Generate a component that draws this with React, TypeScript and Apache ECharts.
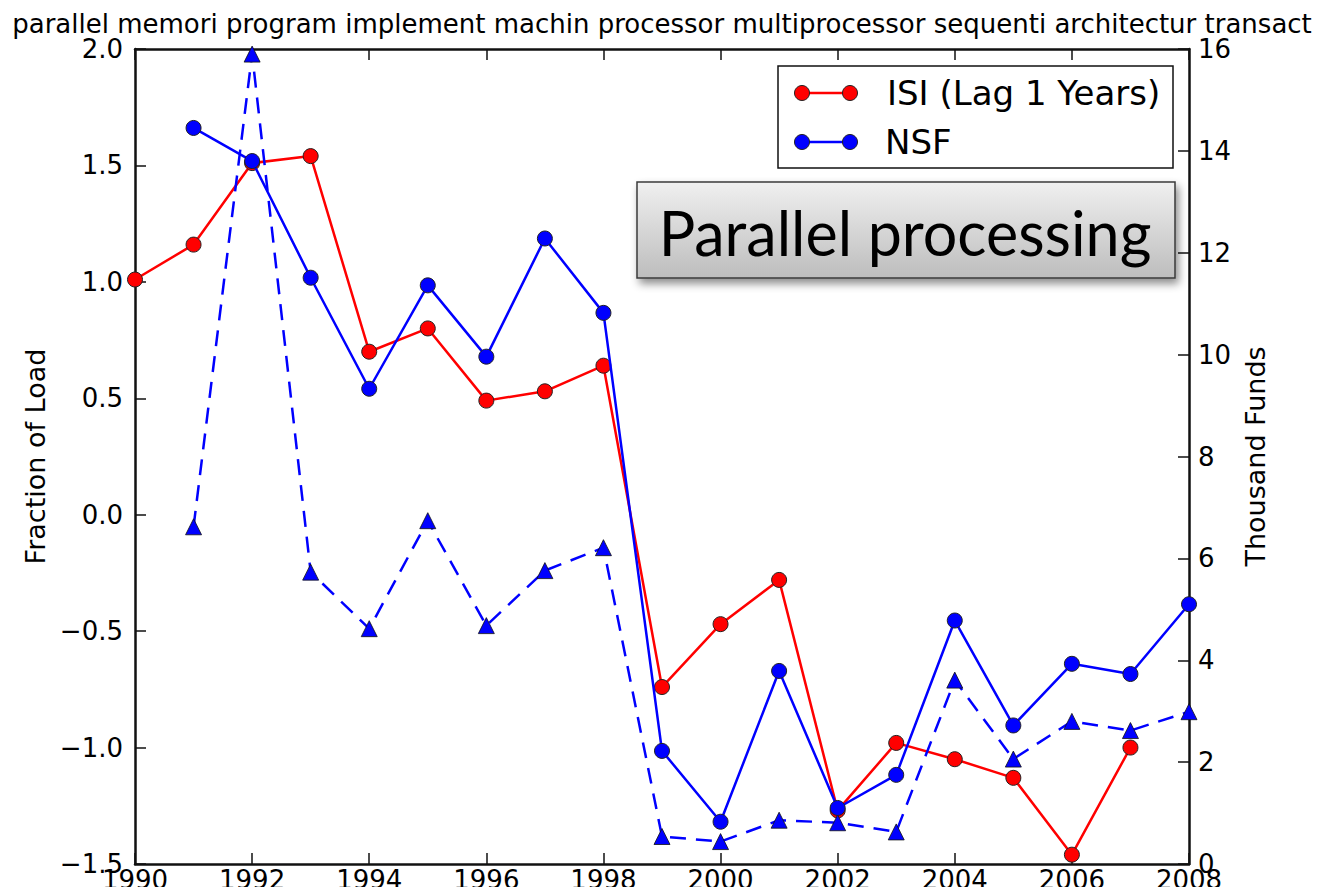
import React, { useEffect, useRef } from "react";
import * as echarts from "echarts";

const titleText =
  "parallel memori program implement machin processor multiprocessor sequenti architectur transact";

const isiYears = [1990, 1991, 1992, 1993, 1994, 1995, 1996, 1997, 1998, 1999, 2000, 2001, 2002, 2003, 2004, 2005, 2006, 2007];
const isiValues = [1.01, 1.16, 1.51, 1.54, 0.7, 0.8, 0.49, 0.53, 0.64, -0.74, -0.47, -0.28, -1.27, -0.98, -1.05, -1.13, -1.46, -1.0];

const nsfYears = [1991, 1992, 1993, 1994, 1995, 1996, 1997, 1998, 1999, 2000, 2001, 2002, 2003, 2004, 2005, 2006, 2007, 2008];
const nsfValues = [14.45, 13.8, 11.51, 9.33, 11.36, 9.96, 12.28, 10.82, 2.22, 0.83, 3.79, 1.1, 1.75, 4.78, 2.72, 3.93, 3.73, 5.1];
const nsfDashedValues = [6.62, 15.9, 5.73, 4.62, 6.74, 4.68, 5.76, 6.21, 0.54, 0.44, 0.86, 0.81, 0.63, 3.61, 2.06, 2.8, 2.62, 2.99];

const legendLabels = ["ISI (Lag 1 Years)", "NSF"];
const annotationText = "Parallel processing";
const leftAxisName = "Fraction of Load";
const rightAxisName = "Thousand Funds";

const FONT = "'DejaVu Sans', sans-serif";

export default function App() {
  const ref = useRef<HTMLDivElement>(null);
  useEffect(() => {
    if (!ref.current) return;
    const chart = echarts.init(ref.current, null, { renderer: "svg" });
    const axisLine = { show: true, onZero: false, lineStyle: { color: "#111", width: 2.5 } };
    const tick = (len: number) => ({
      show: true,
      inside: true,
      length: len,
      lineStyle: { color: "#111", width: 1.5 },
    });
    const fmtMinus = (v: number, d: number) => {
      const s = v.toFixed(d);
      return s.replace("-", "\u2212");
    };
    const legendX1 = 802;
    const legendX2 = 850;
    const rows = [93, 142];
    const colors = ["#ff0000", "#0000ff"];
    const legendGraphics: any[] = [
      {
        type: "rect",
        shape: { x: 778, y: 66, width: 395, height: 102 },
        style: { fill: "#fff", stroke: "#111", lineWidth: 1.5 },
        z: 100,
      },
    ];
    rows.forEach((y, i) => {
      legendGraphics.push({
        type: "line",
        shape: { x1: legendX1, y1: y, x2: legendX2, y2: y },
        style: { stroke: colors[i], lineWidth: 2.5 },
        z: 101,
      });
      [legendX1, legendX2].forEach((cx) =>
        legendGraphics.push({
          type: "circle",
          shape: { cx, cy: y, r: 7.5 },
          style: { fill: colors[i], stroke: "#222", lineWidth: 1 },
          z: 102,
        })
      );
      legendGraphics.push({
        type: "text",
        x: i === 0 ? 887 : 885,
        y,
        style: {
          text: legendLabels[i],
          font: `34px ${FONT}`,
          fill: "#000",
          verticalAlign: "middle",
        },
        z: 102,
      });
    });

    chart.setOption({
      animation: false,
      backgroundColor: "#fff",
      title: {
        text: titleText,
        left: "center",
        top: 6,
        textStyle: { fontFamily: FONT, fontSize: 26, fontWeight: "normal", color: "#000" },
      },
      grid: { left: 135, right: 135, top: 49, bottom: 31, containLabel: false },
      xAxis: [
        {
          type: "value",
          min: 1990,
          max: 2008,
          interval: 2,
          position: "bottom",
          axisLine,
          axisTick: tick(11),
          splitLine: { show: false },
          axisLabel: {
            fontFamily: FONT,
            fontSize: 26,
            color: "#000",
            margin: 3,
            formatter: (v: number) => String(v),
          },
        },
        {
          type: "value",
          min: 1990,
          max: 2008,
          interval: 2,
          position: "top",
          axisLine,
          axisTick: tick(11),
          splitLine: { show: false },
          axisLabel: { show: false },
        },
      ],
      yAxis: [
        {
          type: "value",
          min: -1.5,
          max: 2.0,
          interval: 0.5,
          position: "left",
          axisLine,
          axisTick: tick(11),
          splitLine: { show: false },
          axisLabel: {
            fontFamily: FONT,
            fontSize: 26,
            color: "#000",
            margin: 12,
            formatter: (v: number) => fmtMinus(v, 1),
          },
          name: leftAxisName,
          nameLocation: "middle",
          nameRotate: 90,
          nameGap: 86,
          nameTextStyle: { fontFamily: FONT, fontSize: 27, color: "#000" },
        },
        {
          type: "value",
          min: 0,
          max: 16,
          interval: 2,
          position: "right",
          axisLine,
          axisTick: tick(11),
          splitLine: { show: false },
          axisLabel: {
            fontFamily: FONT,
            fontSize: 26,
            color: "#000",
            margin: 9,
            formatter: (v: number) => String(v),
          },
          name: rightAxisName,
          nameLocation: "middle",
          nameRotate: 90,
          nameGap: 44,
          nameTextStyle: { fontFamily: FONT, fontSize: 27, color: "#000" },
        },
      ],
      series: [
        {
          name: legendLabels[0],
          type: "line",
          xAxisIndex: 0,
          yAxisIndex: 0,
          data: isiYears.map((y, i) => [y, isiValues[i]]),
          symbol: "circle",
          symbolSize: 15,
          lineStyle: { color: "#ff0000", width: 2.5 },
          itemStyle: { color: "#ff0000", borderColor: "#222", borderWidth: 1 },
          z: 2,
        },
        {
          name: "NSF dashed",
          type: "line",
          xAxisIndex: 0,
          yAxisIndex: 1,
          data: nsfYears.map((y, i) => [y, nsfDashedValues[i]]),
          symbol: "triangle",
          symbolSize: 16,
          lineStyle: { color: "#0000ff", width: 2.5, type: [16, 10] },
          itemStyle: { color: "#0000ff", borderColor: "#111", borderWidth: 0.8 },
          z: 3,
        },
        {
          name: legendLabels[1],
          type: "line",
          xAxisIndex: 0,
          yAxisIndex: 1,
          data: nsfYears.map((y, i) => [y, nsfValues[i]]),
          symbol: "circle",
          symbolSize: 15,
          lineStyle: { color: "#0000ff", width: 2.5 },
          itemStyle: { color: "#0000ff", borderColor: "#222", borderWidth: 1 },
          z: 4,
        },
      ],
      graphic: [
        ...legendGraphics,
        {
          type: "rect",
          shape: { x: 637, y: 182, width: 538, height: 96 },
          style: {
            fill: new echarts.graphic.LinearGradient(0, 0, 0, 1, [
              { offset: 0, color: "#f0f0f0" },
              { offset: 1, color: "#bdbdbd" },
            ]),
            stroke: "#3a3a3a",
            lineWidth: 1.5,
            shadowBlur: 8,
            shadowOffsetX: 3,
            shadowOffsetY: 5,
            shadowColor: "rgba(0,0,0,0.45)",
          },
          z: 110,
        },
        {
          type: "text",
          x: 905,
          y: 232,
          style: {
            text: annotationText,
            font: "61px Lato, 'Open Sans', sans-serif",
            fill: "#000",
            align: "center",
            verticalAlign: "middle",
          },
          z: 111,
        },
      ],
    });
    return () => chart.dispose();
  }, []);
  return <div ref={ref} style={{ width: 1324, height: 895, margin: -8 }} />;
}
